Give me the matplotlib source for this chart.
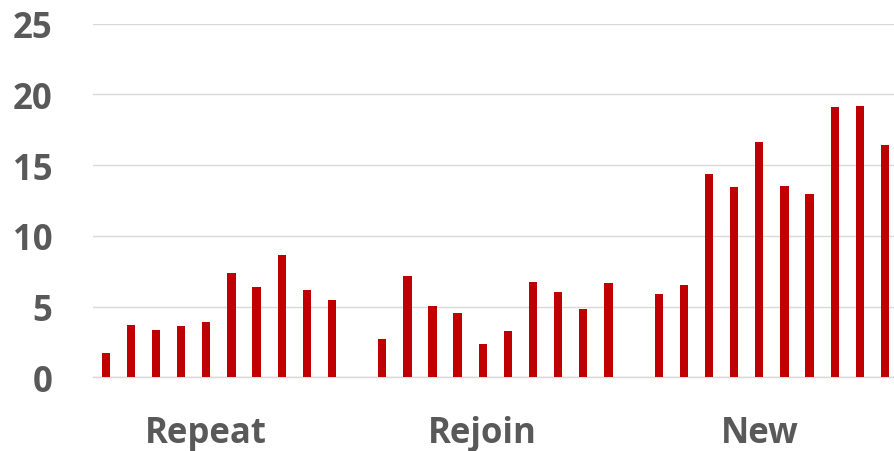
import matplotlib
matplotlib.use("Agg")
import matplotlib.pyplot as plt
import numpy as np

plt.rcParams['font.family'] = ['Open Sans', 'DejaVu Sans']

groups = ["Repeat", "Rejoin", "New"]
repeat_vals = [1.7, 3.7, 3.35, 3.65, 3.9, 7.4, 6.4, 8.65, 6.15, 5.45]
rejoin_vals = [2.7, 7.15, 5.05, 4.55, 2.35, 3.25, 6.75, 6.0, 4.85, 6.7]
new_vals = [5.9, 6.55, 14.4, 13.45, 16.65, 13.5, 12.95, 19.1, 19.15, 16.4]
y_ticks = [0, 5, 10, 15, 20, 25]

series = [repeat_vals, rejoin_vals, new_vals]

W, H = 895, 452
fig = plt.figure(figsize=(W / 100, H / 100), dpi=100)

# plot area in pixels (left, right, top of 25, baseline of 0)
left_px, right_px = 93.1, 897.6
top_px, bottom_px = 24.7, 378.3
ax = fig.add_axes([left_px / W, (H - bottom_px) / H,
                   (right_px - left_px) / W, (bottom_px - top_px) / H])

red = "#C00000"
grey_text = "#595959"
grid_col = "#D9D9D9"

# each group holds 10 bars, separated by one empty slot
positions = []
label_pos = []
start = 0
for vals in series:
    xs = np.arange(start, start + len(vals))
    positions.append(xs)
    label_pos.append(start + 4)
    start += len(vals) + 1

for xs, vals in zip(positions, series):
    ax.bar(xs, vals, width=0.33, color=red, zorder=3)

ax.set_xlim(-0.5, 31.5)
ax.set_ylim(0, 25)
ax.set_yticks(y_ticks)
ax.set_yticklabels([str(t) for t in y_ticks], fontsize=25,
                   fontweight='bold', color=grey_text)
ax.tick_params(axis='y', length=0, pad=29.5)
ax.set_xticks([])

ax.grid(axis='y', color=grid_col, linewidth=1.0, zorder=0)
for s in ['top', 'right', 'left']:
    ax.spines[s].set_visible(False)
ax.spines['bottom'].set_color(grid_col)
ax.spines['bottom'].set_linewidth(1.0)

# group names sit below the axis, baseline a few pixels above the bottom edge
base_frac = (bottom_px - 443) / (bottom_px - top_px)
for g, xp in zip(groups, label_pos):
    ax.text(xp, base_frac, g, transform=ax.get_xaxis_transform(),
            ha='center', va='baseline', fontsize=25, fontweight='bold',
            color=grey_text, clip_on=False)

fig.savefig("out.png", dpi=100)
